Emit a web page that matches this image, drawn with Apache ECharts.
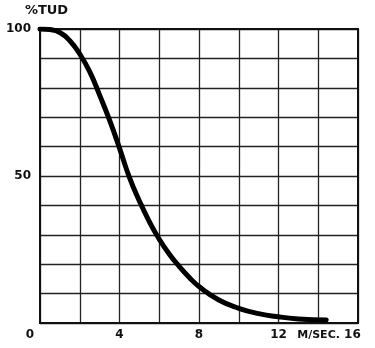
<!DOCTYPE html>
<html>
<head>
<meta charset="utf-8">
<script src="https://cdn.jsdelivr.net/npm/echarts@6/dist/echarts.min.js"></script>
<style>
  html, body { margin: 0; padding: 0; background: #fff; }
  #chart { width: 375px; height: 348px; }
</style>
</head>
<body>
<div id="chart"></div>
<script>
// Wind speed (m/s) against percentage of time unit duration
const speeds  = [0, 0.5, 1, 1.5, 2, 2.5, 3, 3.5, 4, 4.5, 5, 5.5, 6, 6.5, 7, 7.5, 8, 9, 10, 11, 12, 13, 14.4];
const percent = [100, 99.8, 98.8, 96, 91.5, 85.5, 77.5, 69, 59.5, 49.5, 41.5, 34.5, 28.5, 23.5, 19.3, 15.6, 12.4, 7.8, 5, 3.2, 2.1, 1.4, 1];

const xTickLabels = [0, 4, 8, 12, 16];
const yTickLabels = [50, 100];
const xUnit = 'M/SEC.';

const points = speeds.map((s, i) => [s, percent[i]]);

const font = { fontFamily: 'DejaVu Sans', fontWeight: 'bold', fontSize: 12, color: '#111' };

const chart = echarts.init(document.getElementById('chart'), null, { renderer: 'canvas' });
chart.setOption({
  animation: false,
  backgroundColor: '#fff',
  grid: { left: 40, right: 17, top: 29, bottom: 25, containLabel: false, outerBoundsMode: 'none' },
  xAxis: {
    type: 'value', min: 0, max: 16, interval: 2,
    axisLine: { show: true, lineStyle: { color: '#111', width: 2 } },
    axisTick: { show: false },
    splitLine: { show: true, lineStyle: { color: '#222', width: 1.3 } },
    axisLabel: Object.assign({}, font, {
      margin: 6,
      formatter: v => {
        if (!xTickLabels.includes(v)) return '';
        if (v === 0) return '{o|0}';
        if (v === 16) return '{u|' + xUnit + '} {e|16}';
        return String(v);
      },
      rich: {
        o: Object.assign({}, font, { padding: [0, 20, 0, 0] }),
        u: Object.assign({}, font, { fontSize: 11 }),
        e: Object.assign({}, font, { padding: [0, 58, 0, 0] })
      }
    })
  },
  yAxis: {
    type: 'value', min: 0, max: 100, interval: 10,
    name: '%TUD', nameLocation: 'end', nameGap: 12,
    nameTextStyle: Object.assign({}, font, { fontSize: 13, align: 'center', verticalAlign: 'bottom', padding: [0, 0, 0, 13] }),
    axisLine: { show: true, lineStyle: { color: '#111', width: 2 } },
    axisTick: { show: false },
    splitLine: { show: true, lineStyle: { color: '#222', width: 1.3 } },
    axisLabel: Object.assign({}, font, {
      margin: 9,
      formatter: v => yTickLabels.includes(v) ? String(v) : ''
    })
  },
  series: [{
    type: 'line',
    data: points,
    smooth: true,
    symbol: 'none',
    lineStyle: { color: '#000', width: 5, cap: 'round' },
    z: 5
  }]
});

// frame on the right and top edges of the plot
const r = chart.getModel().getComponent('grid').coordinateSystem.getRect();
chart.setOption({
  graphic: [{
    type: 'rect', silent: true, z: 4,
    shape: { x: r.x, y: r.y, width: r.width, height: r.height },
    style: { fill: null, stroke: '#111', lineWidth: 2 }
  }]
});
</script>
</body>
</html>
